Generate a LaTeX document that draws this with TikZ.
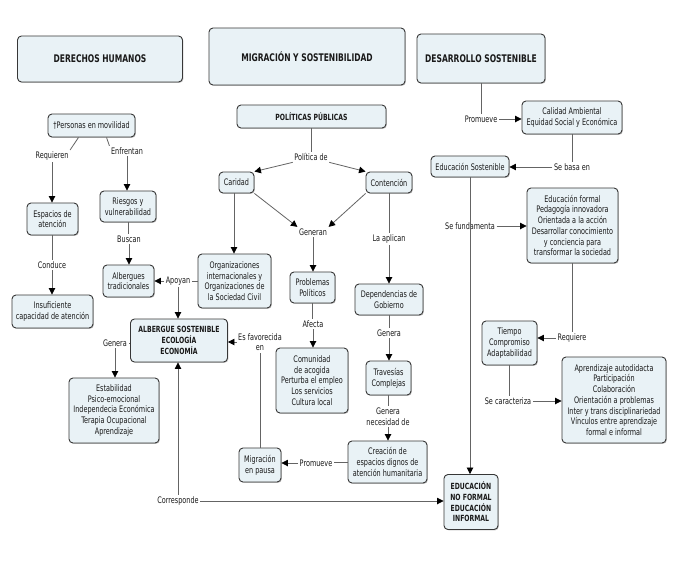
\documentclass[tikz,border=0pt]{standalone}
\usepackage{fontspec}
\setmainfont{DejaVu Sans}[FakeStretch=0.72]
\usetikzlibrary{arrows.meta,shadows}
\definecolor{boxfill}{RGB}{233,242,246}
\definecolor{boxline}{RGB}{55,55,55}
\definecolor{connline}{RGB}{100,100,100}
\definecolor{txt}{RGB}{25,25,25}
\newcommand\fsn{\fontsize{9}{10.7}\selectfont}
\newcommand\fsb{\bfseries\fontsize{8.5}{10.7}\selectfont}
\newcommand\fst{\bfseries\fontsize{10.5}{12}\selectfont}
\tikzset{
  box/.style={draw=boxline, fill=boxfill, rounded corners=4pt, line width=0.9pt,
    align=center, inner sep=0pt, text=txt, font=\fsn,
    drop shadow={shadow xshift=0.9pt, shadow yshift=-0.9pt, fill=black!45}},
  bbox/.style={box, font=\fsb},
  tbox/.style={box, font=\fst},
  lbl/.style={inner sep=1.5pt, align=center, text=txt, font=\fsn},
  conn/.style={draw=connline, line width=0.8pt},
  arr/.style={conn, -{Triangle[length=6.5pt,width=6.5pt,color=black]}}
}
\begin{document}
\begin{tikzpicture}[x=1pt,y=-1pt]
\useasboundingbox[fill=white] (0,0) rectangle (688,568);

% titles
\node[tbox, minimum width=165pt, minimum height=46pt] (dh) at (100,59) {DERECHOS HUMANOS};
\node[tbox, minimum width=196pt, minimum height=57pt] (mig) at (307,56.5) {MIGRACIÓN Y SOSTENIBILIDAD};
\node[tbox, minimum width=128pt, minimum height=49pt] (ds) at (481,58.5) {DESARROLLO SOSTENIBLE};

% left column
\node[box, minimum width=87pt, minimum height=23pt] (pm) at (91.5,125.5) {†Personas en movilidad};
\node[lbl] (requieren) at (52,156) {Requieren};
\node[lbl] (enfrentan) at (127,151) {Enfrentan};
\node[box, minimum width=51pt, minimum height=32pt] (esp) at (52.5,219) {Espacios de\\atención};
\node[box, minimum width=56pt, minimum height=31pt] (rie) at (128,206.5) {Riesgos y\\vulnerabilidad};
\node[lbl] (buscan) at (129,239) {Buscan};
\node[box, minimum width=51pt, minimum height=32pt] (alb) at (128.5,281) {Albergues\\tradicionales};
\node[lbl] (conduce) at (52,265) {Conduce};
\node[box, minimum width=81pt, minimum height=33pt] (ins) at (52.5,311.5) {Insuficiente\\capacidad de atención};
\node[box, minimum width=73pt, minimum height=54pt] (org) at (234.5,281) {Organizaciones\\internacionales y\\Organizaciones de\\la Sociedad Civil};
\node[lbl] (apoyan) at (178,281) {Apoyan};
\node[bbox, minimum width=97pt, minimum height=43pt] (als) at (179,340.5) {ALBERGUE SOSTENIBLE\\ECOLOGÍA\\ECONOMÍA};
\node[lbl] (genera1) at (115,343) {Genera};
\node[box, minimum width=90pt, minimum height=65pt] (est) at (114,410.5) {Estabilidad\\Psico-emocional\\Independecia Económica\\Terapia Ocupacional\\Aprendizaje};
\node[lbl] (favor) at (260,342) {Es favorecida\\en};
\node[box, minimum width=42pt, minimum height=34pt] (mp) at (260,465) {Migración\\en pausa};
\node[lbl] (promueve2) at (316,463) {Promueve};
\node[box, minimum width=79pt, minimum height=42pt] (cre) at (387.5,462) {Creación de\\espacios dignos de\\atención humanitaria};
\node[lbl] (corr) at (178,501) {Corresponde};
\node[bbox, minimum width=54pt, minimum height=55pt] (enf) at (471,502) {EDUCACIÓN\\NO FORMAL\\EDUCACIÓN\\INFORMAL};

% middle column
\node[bbox, minimum width=149pt, minimum height=23pt] (pp) at (311.5,116.5) {POLÍTICAS PÚBLICAS};
\node[lbl] (polde) at (311,157) {Política de};
\node[box, minimum width=35pt, minimum height=21pt] (car) at (236.5,182.5) {Caridad};
\node[box, minimum width=46pt, minimum height=21pt] (con) at (389,182.5) {Contención};
\node[lbl] (gen) at (313,232) {Generan};
\node[box, minimum width=45pt, minimum height=31pt] (prob) at (312.5,287.5) {Problemas\\Políticos};
\node[lbl] (afecta) at (313,324) {Afecta};
\node[box, minimum width=72pt, minimum height=65pt] (com) at (312,380.5) {Comunidad\\de acogida\\Perturba el empleo\\Los servicios\\Cultura local};
\node[lbl] (apl) at (389,239) {La aplican};
\node[box, minimum width=68pt, minimum height=31pt] (dep) at (389,299.5) {Dependencias de\\Gobierno};
\node[lbl] (genera2) at (389,333) {Genera};
\node[box, minimum width=45pt, minimum height=34pt] (tra) at (388.5,378) {Travesías\\Complejas};
\node[lbl] (gnec) at (388,416.5) {Genera\\necesidad de};

% right column
\node[lbl] (promueve1) at (481,119) {Promueve};
\node[box, minimum width=100pt, minimum height=33pt] (cal) at (572,117.5) {Calidad Ambiental\\Equidad Social y Económica};
\node[lbl] (basa) at (572,167) {Se basa en};
\node[box, minimum width=78pt, minimum height=21pt] (es) at (470,166.5) {Educación Sostenible};
\node[lbl] (fund) at (470,226) {Se fundamenta};
\node[box, minimum width=91pt, minimum height=75pt] (ef) at (572.5,225.5) {Educación formal\\Pedagogía innovadora\\Orientada a la acción\\Desarrollar conocimiento\\y conciencia para\\transformar la sociedad};
\node[lbl] (req) at (572,338) {Requiere};
\node[box, minimum width=55pt, minimum height=44pt] (tca) at (509.5,343) {Tiempo\\Compromiso\\Adaptabilidad};
\node[lbl] (car2) at (508,401) {Se caracteriza};
\node[box, minimum width=104pt, minimum height=86pt] (apr) at (614,400) {Aprendizaje autodidacta\\Participación\\Colaboración\\Orientación a problemas\\Inter y trans disciplinariedad\\Vínculos entre aprendizaje\\formal e informal};

% connectors - left
\draw[conn] ([xshift=-13pt]pm.south) -- (requieren.north east);
\draw[arr] (requieren.south) -- (requieren.south |- esp.north);
\draw[conn] ([xshift=15pt]pm.south) -- (enfrentan.north west);
\draw[arr] (enfrentan.south) -- (enfrentan.south |- rie.north);
\draw[conn] (rie.south) -- (rie.south |- buscan.north);
\draw[arr] (buscan.south) -- (buscan.south |- alb.north);
\draw[conn] (esp.south) -- (esp.south |- conduce.north);
\draw[arr] (conduce.south) -- (conduce.south |- ins.north);
\draw[arr] (car.south -| 234,0) -- (234,0 |- org.north);
\draw[conn] (org.west) -- (apoyan.east);
\draw[arr] (apoyan.west) -- (alb.east);
\draw[arr] (apoyan.south) -- (apoyan.south |- als.north);
\draw[conn] (als.west |- genera1.east) -- (genera1.east);
\draw[arr] (genera1.south) -- (genera1.south |- est.north);
\draw[conn] (mp.north) -- (mp.north |- favor.south);
\draw[arr] (favor.west) -- (als.east |- favor.west);
\draw[conn] (cre.west) -- (cre.west -| promueve2.east);
\draw[arr] (promueve2.west) -- (promueve2.west -| mp.east);
\draw[arr] (corr.north) -- (corr.north |- als.south);
\draw[arr] (corr.east) -- (corr.east -| enf.west);

% connectors - middle
\draw[conn] (pp.south) -- (pp.south |- polde.north);
\draw[arr] (polde.south west) -- (car.north east);
\draw[arr] (polde.south east) -- (con.north west);
\draw[arr] (car.south east) -- (gen.north west);
\draw[arr] (con.south west) -- (gen.north east);
\draw[arr] (gen.south) -- (gen.south |- prob.north);
\draw[conn] (prob.south) -- (prob.south |- afecta.north);
\draw[arr] (afecta.south) -- (afecta.south |- com.north);
\draw[conn] (con.south) -- (con.south |- apl.north);
\draw[arr] (apl.south) -- (apl.south |- dep.north);
\draw[conn] (dep.south) -- (dep.south |- genera2.north);
\draw[arr] (genera2.south) -- (genera2.south |- tra.north);
\draw[conn] (tra.south) -- (tra.south |- gnec.north);
\draw[arr] (gnec.south) -- (gnec.south |- cre.north);

% connectors - right
\draw[conn] (ds.south) -- (ds.south |- promueve1.north);
\draw[arr] (promueve1.east) -- (promueve1.east -| cal.west);
\draw[conn] (cal.south) -- (cal.south |- basa.north);
\draw[arr] (basa.west) -- (basa.west -| es.east);
\draw[arr] (es.south) -- (es.south |- enf.north);
\draw[arr] (fund.east) -- (fund.east -| ef.west);
\draw[conn] (ef.south) -- (ef.south |- req.north);
\draw[arr] (req.west) -- (req.west -| tca.east);
\draw[conn] (tca.south) -- (tca.south |- car2.north);
\draw[arr] (car2.east) -- (car2.east -| apr.west);
\end{tikzpicture}
\end{document}
